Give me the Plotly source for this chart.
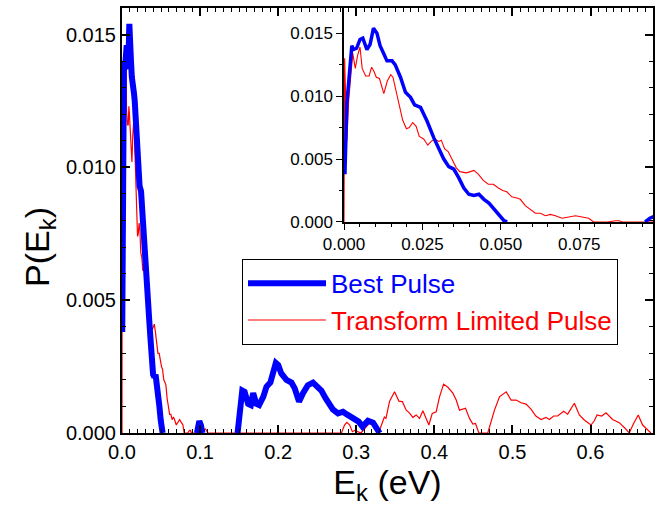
import plotly.graph_objects as go

# ---------------- data ----------------
# Best Pulse (blue)
best_E = [0.0003, 0.0009, 0.0025, 0.003, 0.004, 0.0051, 0.006, 0.0073, 0.0083, 0.0094,
          0.0105, 0.0115, 0.0126, 0.0137, 0.0153, 0.0163, 0.018, 0.0196, 0.0212, 0.0225,
          0.0244, 0.0265, 0.0286, 0.0302, 0.0318, 0.0334, 0.035, 0.0366, 0.0382, 0.0398,
          0.0414, 0.043, 0.0446, 0.0462, 0.0479, 0.0495, 0.051, 0.052, None,
          0.096, 0.0975, 0.099, 0.101, 0.103, None,
          0.148, 0.151, 0.154, 0.157, 0.1615, 0.165, 0.168, 0.172, 0.1756, 0.181, 0.185,
          0.19, 0.1935, 0.197, 0.2, 0.204, 0.2106, 0.217, 0.2212, 0.2267, 0.2318,
          0.238, 0.2446, 0.2497, 0.2553, 0.2609, 0.266, 0.27, 0.2766, 0.283, 0.288,
          0.2937, 0.298, 0.303, 0.308, 0.315, 0.3215, 0.3257, 0.33]
best_P = [0.0038, 0.0094, 0.0140, 0.0137, 0.0138, 0.0145, 0.0146, 0.0137, 0.0141, 0.0154,
          0.0150, 0.0140, 0.0134, 0.0128, 0.0128, 0.0125, 0.0115, 0.0103, 0.0099, 0.0093,
          0.0091, 0.0080, 0.0067, 0.0059, 0.0050, 0.0044, 0.0042, 0.0035, 0.0027, 0.0022,
          0.0021, 0.0022, 0.0018, 0.0015, 0.0010, 0.0005, 0.0001, 0.0, None,
          0.0, 0.0003, 0.00045, 0.0003, 0.0, None,
          0.0, 0.0009, 0.0016, 0.00155, 0.0011, 0.00105, 0.0015, 0.0011, 0.00105, 0.00137, 0.00174,
          0.0019, 0.00224, 0.00264, 0.00256, 0.00224, 0.0020, 0.0019, 0.00168, 0.00118, 0.0015,
          0.0018, 0.0019, 0.00174, 0.0016, 0.0013, 0.0011, 0.00089, 0.00074, 0.0008, 0.0007,
          0.0006, 0.00055, 0.00043, 0.00024, 0.00046, 0.00039, 0.00018, 0.0]

# Transform Limited Pulse (red)
tl_E = [0.0, 0.0002, 0.0009, 0.0015, 0.0028, 0.0036, 0.0043, 0.0051, 0.0058, 0.0069,
        0.008, 0.0088, 0.0095, 0.0103, 0.0113, 0.0127, 0.0138, 0.0149, 0.0156, 0.0165,
        0.0176, 0.0187, 0.0199, 0.0208, 0.0219, 0.023, 0.024, 0.0254, 0.0267, 0.0278,
        0.0289, 0.0302, 0.031, 0.0321, 0.0332, 0.0342, 0.0358, 0.0369, 0.039, 0.0403,
        0.0414, 0.0428, 0.0444, 0.046, 0.0476, 0.0492, 0.0506, 0.0519, 0.0535, 0.0551,
        0.0562, 0.0578, 0.0594, 0.061, 0.0626, 0.0642, 0.0658, 0.0674, 0.0695, 0.0716,
        0.0738, 0.0759, 0.078, 0.0796, 0.084, 0.0866, 0.0877, 0.0887, 0.1, 0.104,
        0.107, 0.11, 0.281, 0.285, 0.288, 0.2916, 0.295, 0.298, 0.302, 0.306,
        0.312, 0.318, 0.322, 0.328, 0.331, 0.336, 0.338, 0.3427, 0.349, 0.3546,
        0.359, 0.364, 0.368, 0.3725, 0.3768, 0.381, 0.3853, 0.3887, 0.393, 0.3973,
        0.4024, 0.4066, 0.4118, 0.4173, 0.4237, 0.428, 0.4322, 0.4399, 0.445, 0.4493,
        0.4527, 0.457, 0.4684, 0.477, 0.4834, 0.492, 0.4983, 0.5047, 0.511, 0.5175,
        0.524, 0.530, 0.5367, 0.543, 0.5473, 0.5528, 0.5579, 0.5656, 0.5707, 0.5793,
        0.5857, 0.592, 0.6006, 0.6049, 0.6083, 0.6143, 0.6198, 0.6283, 0.6368, 0.6441,
        0.6496, 0.6551, 0.6611, 0.6667, 0.673, 0.6773]
tl_P = [0.0, 0.0130, 0.0064, 0.0097, 0.0134, 0.0122, 0.0132, 0.0139, 0.0122, 0.0116,
        0.0116, 0.0123, 0.0120, 0.0115, 0.0114, 0.0102, 0.0112, 0.0117, 0.0115, 0.0105,
        0.0093, 0.0081, 0.0074, 0.0075, 0.0079, 0.0076, 0.0068, 0.0066, 0.0061, 0.0064,
        0.0066, 0.0064, 0.0065, 0.0058, 0.0056, 0.0051, 0.0043, 0.0040, 0.0039, 0.0040,
        0.0041, 0.0038, 0.0033, 0.0030, 0.0030, 0.0027, 0.0025, 0.0024, 0.0020, 0.0019,
        0.0018, 0.0013, 0.0010, 0.0007, 0.0007, 0.0005, 0.0006, 0.0005, 0.0003, 0.0004,
        0.0005, 0.0004, 0.0003, 0.0, 0.0, 0.0001, 0.0001, 0.0, 0.0, 0.0001,
        0.00015, 0.0, 0.0, 0.0003, 0.0004, 0.0003, 0.00005, 0.0001, 0.00005, 0.0,
        0.0002, 0.0004, 0.0003, 0.0, 0.0002, 0.0006, 0.00055, 0.0012, 0.00155, 0.0012,
        0.00118, 0.00086, 0.00076, 0.00059, 0.00068, 0.00055, 0.00084, 0.00061, 0.0003, 0.00074,
        0.0008, 0.00136, 0.00184, 0.00172, 0.0015, 0.00124, 0.00086, 0.00093, 0.00055, 0.00034,
        0.00036, 0.0, 0.0, 0.00086, 0.00136, 0.00155, 0.00124, 0.00124, 0.00114, 0.00109,
        0.00089, 0.00064, 0.00051, 0.00059, 0.00051, 0.00064, 0.00064, 0.00082, 0.00071, 0.00112,
        0.00068, 0.00049, 0.0003, 0.00046, 0.00068, 0.00064, 0.00076, 0.00051, 0.00039, 0.00018,
        0.0, 0.00036, 0.00068, 0.0003, 0.00011, 0.0]

names = ["Best Pulse", "Transform Limited Pulse"]
main_x_range = [0, 0.68]
main_y_range = [0, 0.016]
inset_x_range = [0, 0.0985]
inset_y_range = [0, 0.017]

BLUE = "#0000ff"
RED = "#ff0000"
FONT = "Liberation Sans, Arial, sans-serif"

fig = go.Figure()

# main traces
fig.add_trace(go.Scatter(x=tl_E, y=tl_P, mode="lines",
                         line=dict(color=RED, width=1.2),
                         name=f"<span style='color:{RED}'>{names[1]}</span>",
                         xaxis="x", yaxis="y", legendrank=2))
fig.add_trace(go.Scatter(x=best_E, y=best_P, mode="lines",
                         line=dict(color=BLUE, width=6),
                         name=f"<span style='color:{BLUE}'>{names[0]}</span>",
                         xaxis="x", yaxis="y", legendrank=1))
# inset traces
fig.add_trace(go.Scatter(x=tl_E, y=tl_P, mode="lines",
                         line=dict(color=RED, width=1.1),
                         showlegend=False, xaxis="x2", yaxis="y2"))
fig.add_trace(go.Scatter(x=best_E, y=best_P, mode="lines",
                         line=dict(color=BLUE, width=3.5),
                         showlegend=False, xaxis="x2", yaxis="y2"))

W, H = 661, 520
L, R, T, B = 122, 8, 6, 87
pw = W - L - R
ph = H - T - B
inset_left = (344 - L) / pw
inset_bottom = (433 - 221) / ph

fig.update_layout(
    width=W, height=H,
    margin=dict(l=L, r=R, t=T, b=B),
    paper_bgcolor="white", plot_bgcolor="rgba(0,0,0,0)",
    font=dict(family=FONT, color="black"),
    showlegend=True,
    legend=dict(x=(242 - L) / pw, y=(433 - 258) / ph, xanchor="left", yanchor="top",
                bordercolor="black", borderwidth=1, bgcolor="white",
                font=dict(size=26, family=FONT), itemwidth=78,
                tracegroupgap=0),
    annotations=[dict(text="P(E<sub>k</sub>)", textangle=-90, showarrow=False,
                      xref="paper", yref="paper", x=(40 - L) / pw, y=(433 - 246) / ph,
                      xanchor="center", yanchor="middle",
                      font=dict(size=34, family=FONT, color="black"))],
    xaxis=dict(domain=[0, 1], range=main_x_range, dtick=0.1, tick0=0, tickformat=".1f",
               ticks="inside", ticklen=8, tickwidth=1.5, tickcolor="black",
               minor=dict(dtick=0.01, ticks="inside", ticklen=4, tickwidth=1.2, tickcolor="black"),
               showline=True, linewidth=2, linecolor="black", mirror="ticks",
               showgrid=False, zeroline=False,
               tickfont=dict(size=20, family=FONT),
               title=dict(text="E<sub>k</sub> (eV)", font=dict(size=34, family=FONT), standoff=8)),
    yaxis=dict(domain=[0, 1], range=main_y_range, dtick=0.005, tick0=0, tickformat=".3f",
               ticks="inside", ticklen=8, tickwidth=1.5, tickcolor="black",
               minor=dict(dtick=0.001, ticks="inside", ticklen=4, tickwidth=1.2, tickcolor="black"),
               showline=True, linewidth=2, linecolor="black", mirror="ticks",
               showgrid=False, zeroline=False,
               tickfont=dict(size=20, family=FONT)),
    xaxis2=dict(domain=[inset_left, 1], anchor="y2", range=inset_x_range, dtick=0.025, tick0=0,
                tickformat=".3f", ticks="outside", ticklen=6, tickwidth=1.2, tickcolor="black",
                minor=dict(dtick=0.005, ticks="outside", ticklen=3, tickwidth=1, tickcolor="black"),
                showline=True, linewidth=1.5, linecolor="black",
                showgrid=False, zeroline=False,
                tickfont=dict(size=17, family=FONT)),
    yaxis2=dict(domain=[inset_bottom, 1], anchor="x2", range=inset_y_range, dtick=0.005, tick0=0,
                tickformat=".3f", ticks="outside", ticklen=6, tickwidth=1.2, tickcolor="black",
                minor=dict(dtick=0.0025, ticks="outside", ticklen=3, tickwidth=1, tickcolor="black"),
                showline=True, linewidth=1.5, linecolor="black",
                showgrid=False, zeroline=False,
                tickfont=dict(size=17, family=FONT)),
)

fig.write_html("out.html")
